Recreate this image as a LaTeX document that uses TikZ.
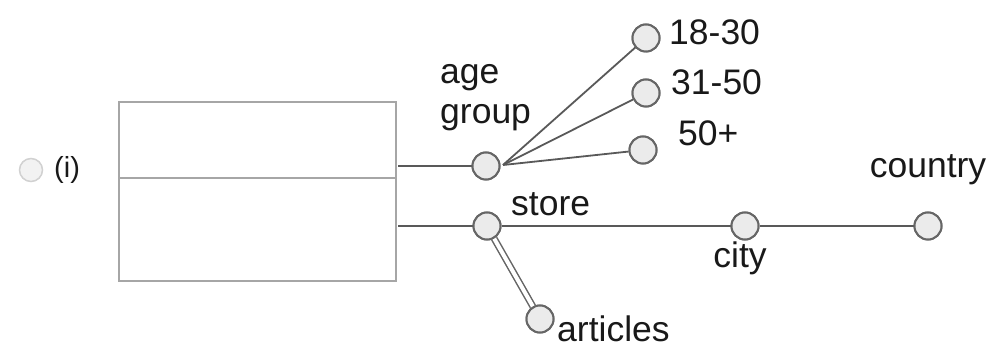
\documentclass[tikz,border=0pt]{standalone}
\usepackage{fontspec}
\setmainfont{Liberation Sans}
\begin{document}
\begin{tikzpicture}[x=1pt,y=-1pt,
  dot/.style={circle,draw=black!60,fill=black!8,line width=2pt,minimum size=27pt,inner sep=0pt},
  conn/.style={draw=black!65,line width=2pt},
  lbl/.style={inner sep=0pt,font=\fontsize{35.5}{40}\selectfont,text=black!90},
  box/.style={draw=black!35,line width=2.5pt,inner sep=0pt}]
\useasboundingbox (0,0) rectangle (1004,352);
% radio + label
\node[circle,draw=black!18,fill=black!5,line width=1.5pt,minimum size=23pt,inner sep=0pt] (radio) at (31,170) {};
\node[lbl,font=\fontsize{29}{32}\selectfont,anchor=west] (num) at (54,170) {(i)};
% rectangle halves
\draw[box] (119,102) rectangle (396,178);
\node[inner sep=0pt,minimum width=277pt,minimum height=76pt] (top) at (257.5,140) {};
\draw[box] (119,178) rectangle (396,281);
\node[inner sep=0pt,minimum width=277pt,minimum height=103pt] (bot) at (257.5,229.5) {};
\coordinate (s1) at (398,166);
\coordinate (s2) at (398,226);
% nodes
\node[dot] (age) at (486,166) {};
\node[dot] (n1) at (646,38) {};
\node[dot] (n2) at (646,93) {};
\node[dot] (n3) at (643,150) {};
\node[dot] (store) at (487,226) {};
\node[dot] (art) at (540,319) {};
\node[dot] (city) at (745,226) {};
\node[dot] (country) at (928,226) {};
% connectors
\draw[conn] (s1) -- (age);
\draw[conn] (s2) -- (store);
\coordinate (hub) at (503,165);
\draw[conn,line width=1.8pt] (hub) -- (n1);
\draw[conn,line width=1.8pt] (hub) -- (n2);
\draw[conn,line width=1.8pt] (hub) -- (n3);
\draw[conn] (store) -- (city);
\draw[conn] (city) -- (country);
\draw[black!60,line width=1.5pt,double=white,double distance=4pt] (store) -- (art);
% redraw dots on top
\foreach \p in {{486,166},{646,38},{646,93},{643,150},{487,226},{540,319},{745,226},{928,226}}
  \node[dot] at (\p) {};
% labels
\node[lbl,anchor=west] (l1) at (669,32) {18-30};
\node[lbl,anchor=west] (l2) at (671,82) {31-50};
\node[lbl,anchor=west] (l3) at (678,133) {50+};
\node[lbl,anchor=west,align=left,font=\fontsize{35.5}{40}\selectfont] (lage) at (440,98) {age\\group};
\node[lbl,anchor=west] (lstore) at (511,204) {store};
\node[lbl,anchor=west] (lart) at (557,329) {articles};
\node[lbl] (lcity) at (740,258) {city};
\node[lbl] (lcountry) at (928,170) {country};
\end{tikzpicture}
\end{document}
